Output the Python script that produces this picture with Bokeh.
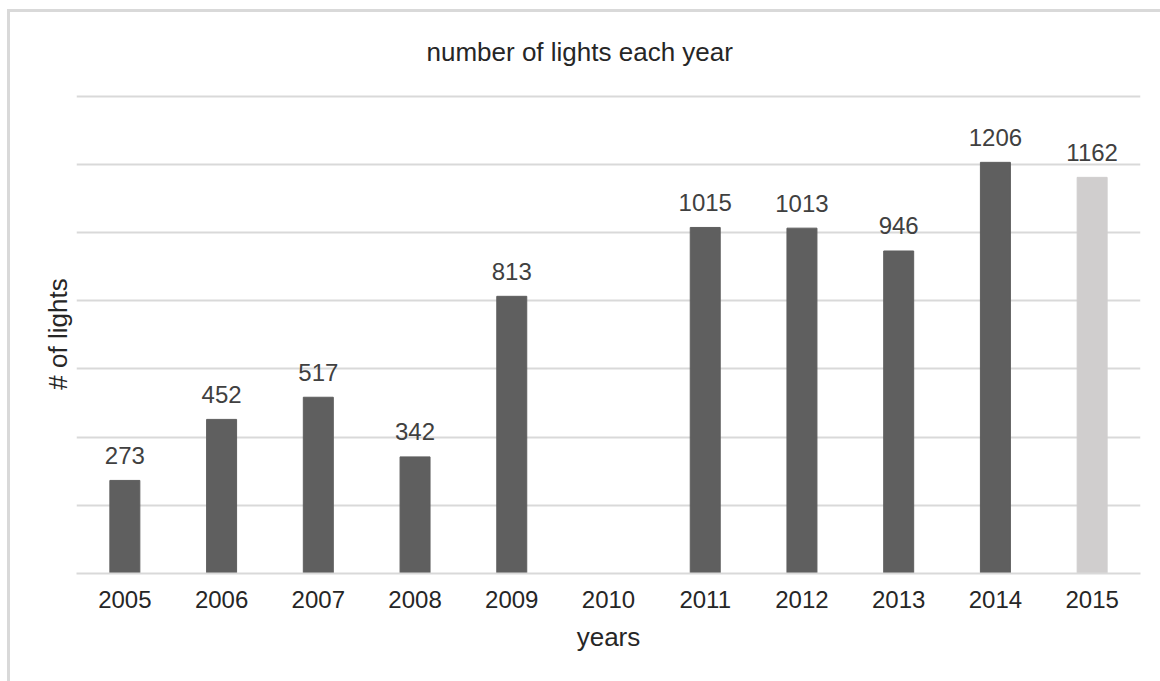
from bokeh.plotting import figure
from bokeh.models import ColumnDataSource, FactorRange, Range1d, FixedTicker
from bokeh.core.properties import value
from bokeh.embed import file_html
from bokeh.resources import INLINE

# Yearly light counts (2010 has no recorded value)
years = ["2005", "2006", "2007", "2008", "2009", "2010",
         "2011", "2012", "2013", "2014", "2015"]
lights = [273, 452, 517, 342, 813, None, 1015, 1013, 946, 1206, 1162]
bar_colors = ["#5f5f5f"] * 10 + ["#d0cece"]
grid_values = [0, 200, 400, 600, 800, 1000, 1200, 1400]

FONT = "Liberation Sans"

bars = ColumnDataSource(dict(
    year=[y for y, v in zip(years, lights) if v is not None],
    value=[v for v in lights if v is not None],
    color=[c for c, v in zip(bar_colors, lights) if v is not None],
    label=[str(v) for v in lights if v is not None],
))

p = figure(
    width=1160, height=681,
    x_range=FactorRange(*years, range_padding=0),
    y_range=Range1d(0, 1405),
    output_backend="svg", toolbar_location=None,
    min_border_left=76, min_border_right=20,
    min_border_top=94, min_border_bottom=108,
    title="number of lights each year",
)
p.x_range.range_padding = 0

p.vbar(x="year", top="value", width=0.31, color="color", source=bars)
p.text(x="year", y="value", text="label", source=bars,
       text_font=value(FONT), text_font_size="24px", text_color="#404040",
       text_align="center", text_baseline="middle", y_offset=-25)

# light chart-area border along the top and left edges
p.border_fill_color = None
p.background_fill_color = "white"
p.styles = {
    "background-color": "white",
    "background-image": "linear-gradient(#d9d9d9, #d9d9d9), linear-gradient(#d9d9d9, #d9d9d9)",
    "background-size": "3px 680px, 1160px 3px",
    "background-position": "7px 9px, 7px 9px",
    "background-repeat": "no-repeat",
}

# title centred on the whole chart area rather than the plot frame
p.title.align = "left"
p.title.offset = 350
p.title.text_font = FONT
p.title.text_font_size = "26px"
p.title.text_font_style = "normal"
p.title.text_color = "#262626"
p.title.standoff = 55

p.outline_line_color = None
p.xgrid.grid_line_color = None
p.ygrid.ticker = FixedTicker(ticks=grid_values)
p.ygrid.grid_line_color = "#d9d9d9"
p.ygrid.grid_line_width = 2

xa = p.xaxis[0]
xa.axis_line_color = "#d9d9d9"
xa.axis_line_width = 2
xa.major_tick_line_color = None
xa.minor_tick_line_color = None
xa.major_tick_out = 0
xa.major_label_text_font = FONT
xa.major_label_text_font_size = "24px"
xa.major_label_text_color = "#262626"
xa.major_label_standoff = 17
xa.axis_label = "years"
xa.axis_label_text_font = FONT
xa.axis_label_text_font_size = "26px"
xa.axis_label_text_font_style = "normal"
xa.axis_label_text_color = "#262626"
xa.axis_label_standoff = 11

ya = p.yaxis[0]
ya.ticker = FixedTicker(ticks=[])
ya.axis_line_color = None
ya.major_tick_line_color = None
ya.minor_tick_line_color = None
ya.major_tick_out = 0
ya.major_label_text_font_size = "0px"
ya.axis_label = "# of lights"
ya.axis_label_text_font = FONT
ya.axis_label_text_font_size = "26px"
ya.axis_label_text_font_style = "normal"
ya.axis_label_text_color = "#262626"
ya.axis_label_standoff = 4

open("out.html", "w").write(file_html(p, INLINE))
